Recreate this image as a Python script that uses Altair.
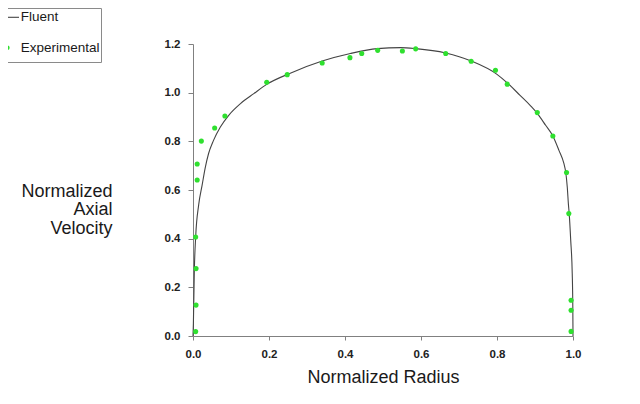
import altair as alt
import pandas as pd

# ---- data ----
fluent_x = [0.0, 0.001, 0.0035, 0.007, 0.015, 0.024, 0.032, 0.041, 0.054, 0.072, 0.094,
            0.125, 0.16, 0.195, 0.256, 0.34, 0.414, 0.485, 0.546, 0.586, 0.665, 0.732,
            0.80, 0.827, 0.86, 0.889, 0.906, 0.928, 0.947, 0.963, 0.976, 0.981, 0.985,
            0.988, 0.99, 0.994, 0.998, 0.9995, 1.0]
fluent_y = [0.0, 0.05, 0.27, 0.407, 0.54, 0.62, 0.69, 0.75, 0.804, 0.859, 0.907,
            0.955, 0.996, 1.035, 1.08, 1.13, 1.161, 1.181, 1.185, 1.181, 1.163, 1.13,
            1.075, 1.04, 0.99, 0.945, 0.915, 0.866, 0.822, 0.763, 0.709, 0.672, 0.61,
            0.54, 0.503, 0.393, 0.256, 0.12, 0.0]

exp_x = [0.007, 0.008, 0.008, 0.007, 0.011, 0.011, 0.022, 0.057, 0.084, 0.194, 0.248,
         0.34, 0.413, 0.444, 0.486, 0.551, 0.586, 0.665, 0.732, 0.796, 0.827, 0.906,
         0.947, 0.983, 0.989, 0.995, 0.995, 0.995]
exp_y = [0.018, 0.127, 0.277, 0.407, 0.641, 0.707, 0.801, 0.855, 0.904, 1.043, 1.074,
         1.122, 1.144, 1.161, 1.174, 1.171, 1.18, 1.161, 1.129, 1.092, 1.035, 0.918,
         0.822, 0.672, 0.503, 0.147, 0.106, 0.019]

legend_labels = ["Fluent", "Experimental"]
x_ticks = [0.0, 0.1, 0.2, 0.3, 0.4, 0.5, 0.6, 0.7, 0.8, 0.9, 1.0]
y_ticks = [0.0, 0.1, 0.2, 0.3, 0.4, 0.5, 0.6, 0.7, 0.8, 0.9, 1.0, 1.1, 1.2]

fluent = pd.DataFrame({"r": fluent_x, "v": fluent_y})
exp = pd.DataFrame({"r": exp_x, "v": exp_y})

FONT = "Liberation Sans"
LINE_COLOR = "#444444"
DOT_COLOR = "#2fe02f"
AXIS_COLOR = "#808080"

x_enc = alt.X(
    "r:Q",
    scale=alt.Scale(domain=[0, 1], nice=False, zero=False),
    axis=alt.Axis(
        values=x_ticks, format=".1f", title="Normalized Radius",
        tickSize=4, labelPadding=17, labelBaseline="alphabetic",
        labelFlush=False, labelOverlap=False,
        titleX=190, titleY=46.5, titleBaseline="alphabetic", titleAlign="center",
    ),
)
y_enc = alt.Y(
    "v:Q",
    scale=alt.Scale(domain=[0, 1.2], nice=False),
    axis=alt.Axis(
        values=y_ticks,
        labelExpr="round(datum.value*10) % 2 == 0 ? format(datum.value, '.1f') : ''",
        tickSize={"condition": {"test": "round(datum.value*10) % 2 == 0", "value": 5}, "value": 3},
        labelPadding=8, labelFlush=False, labelOverlap=False, labelBaseline="middle",
        title=["Normalized", "Axial", "Velocity"],
        titleAngle=0, titleAlign="right", titleBaseline="alphabetic",
        titleX=-81, titleY=152.5, titleLineHeight=18.3,
    ),
)

line = alt.Chart(fluent).mark_line(
    color=LINE_COLOR, strokeWidth=1.1, interpolate="monotone"
).encode(x=x_enc, y=y_enc)

points = alt.Chart(exp).mark_circle(
    color=DOT_COLOR, size=26, opacity=1
).encode(x="r:Q", y="v:Q")

# ---- legend box (drawn outside the plot area, top-left of the page) ----
one = pd.DataFrame({"k": [0]})
box = alt.Chart(one).mark_rect(
    fillOpacity=0, stroke="#8a8a8a", strokeWidth=1
).encode(x=alt.value(-200), x2=alt.value(-91.5), y=alt.value(-35.5), y2=alt.value(18.5))

leg_line = alt.Chart(one).mark_rule(color=LINE_COLOR, strokeWidth=1.1).encode(
    x=alt.value(-200), x2=alt.value(-174), y=alt.value(-26.7)
)
leg_dot = alt.Chart(one).mark_circle(color=DOT_COLOR, size=22, opacity=1).encode(
    x=alt.value(-185.7), y=alt.value(3.7)
)
leg_t1 = alt.Chart(pd.DataFrame({"label": [legend_labels[0]]})).mark_text(
    align="left", baseline="middle", font=FONT, fontSize=13.5, color="#1a1a1a"
).encode(x=alt.value(-172.3), y=alt.value(-26.7), text="label:N")
leg_t2 = alt.Chart(pd.DataFrame({"label": [legend_labels[1]]})).mark_text(
    align="left", baseline="middle", font=FONT, fontSize=13.5, color="#1a1a1a"
).encode(x=alt.value(-172.3), y=alt.value(3.7), text="label:N")

chart = alt.layer(line, points, box, leg_line, leg_dot, leg_t1, leg_t2).properties(
    width=380, height=292,
    autosize=alt.AutoSizeParams(type="none"),
    padding={"left": 185, "top": 36, "right": 59, "bottom": 60},
    background="white",
).configure_view(stroke=None).configure_axis(
    grid=False, domainColor=AXIS_COLOR, tickColor=AXIS_COLOR, domainWidth=1, tickWidth=1,
    labelFont=FONT, labelFontSize=11.5, labelFontWeight="bold", labelColor="#222222",
    titleFont=FONT, titleFontSize=18, titleFontWeight="normal", titleColor="#1a1a1a",
)

chart.save("out.html", embed_options={"renderer": "svg", "actions": False})
